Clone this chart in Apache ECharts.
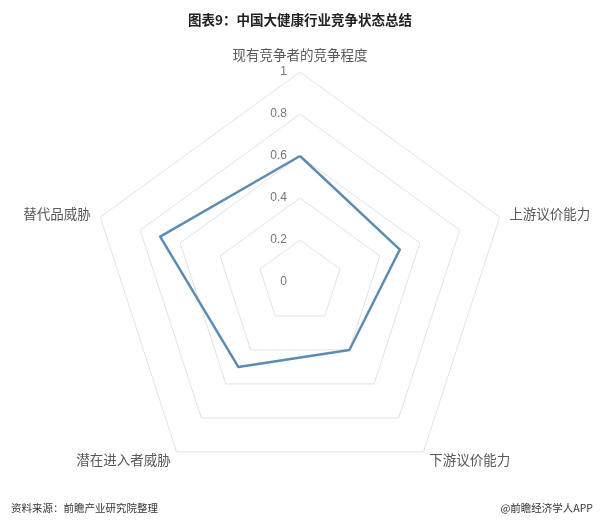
<!DOCTYPE html>
<html><head><meta charset="utf-8">
<script src="https://cdn.jsdelivr.net/npm/echarts@6/dist/echarts.min.js"></script>
<style>html,body{margin:0;padding:0;background:#fff}#c{width:600px;height:523px}</style>
</head><body><div id="c"></div>
<script>
// indicators listed counter-clockwise starting from the top (ECharts radar order)
const indicatorNames = ['现有竞争者的竞争程度', '替代品威胁', '潜在进入者威胁', '下游议价能力', '上游议价能力'];
const values = [0.6, 0.7, 0.5, 0.4, 0.5];
const maxValue = 1;
const titleText = '图表9：中国大健康行业竞争状态总结';
const sourceText = '资料来源：前瞻产业研究院整理';
const creditText = '@前瞻经济学人APP';

const chart = echarts.init(document.getElementById('c'));
chart.setOption({
  backgroundColor: '#fff',
  animation: false,
  title: [
    {text: titleText, left: 'center', top: 8, textStyle: {fontFamily: 'Noto Sans CJK SC', fontSize: 13.5, fontWeight: 'bold', color: '#222'}},
    {text: sourceText, left: 6, top: 498, textStyle: {fontFamily: 'Noto Sans CJK SC', fontSize: 10.5, fontWeight: 'normal', color: '#333'}},
    {text: creditText, right: 2, top: 498, textStyle: {fontFamily: 'Noto Sans CJK SC', fontSize: 10.5, fontWeight: 'normal', color: '#333'}}
  ],
  radar: {
    center: [300, 282],
    radius: 210,
    startAngle: 90,
    shape: 'polygon',
    splitNumber: 5,
    nameGap: 10,
    axisName: {color: '#595959', fontSize: 13.5, fontFamily: 'Noto Sans CJK SC'},
    indicator: indicatorNames.map((n, i) => i === 0 ? {name: n, min: 0, max: maxValue} : {name: n, min: 0, max: maxValue, axisLabel: {show: false}}),
    axisLine: {show: false},
    axisTick: {show: false},
    axisLabel: {show: true, color: '#777', fontSize: 12, fontFamily: 'Liberation Sans', margin: 13, formatter: v => String(v)},
    splitLine: {lineStyle: {color: '#e3e3e3', width: 1}},
    splitArea: {show: false}
  },
  series: [{
    type: 'radar',
    symbol: 'none',
    lineStyle: {color: '#5b8db3', width: 2.5},
    data: [{value: values}]
  }]
});
</script></body></html>
